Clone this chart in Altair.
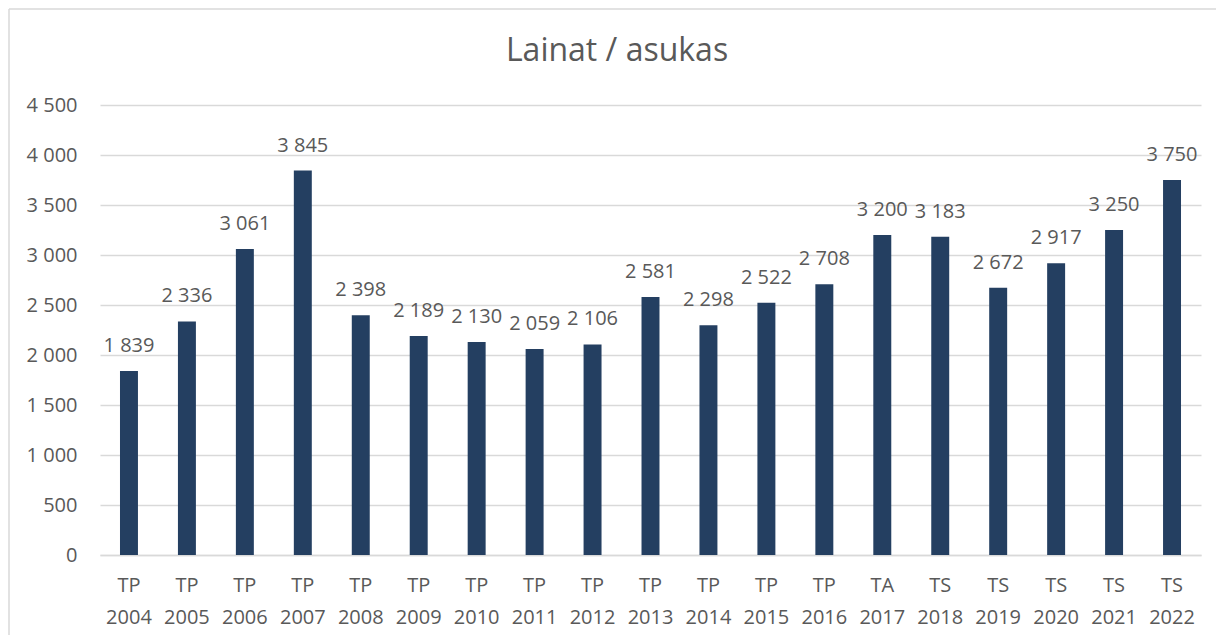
import altair as alt
import pandas as pd

title_text = "Lainat / asukas"
prefixes = ["TP"] * 13 + ["TA"] + ["TS"] * 5
years = list(range(2004, 2023))
values = [1839, 2336, 3061, 3845, 2398, 2189, 2130, 2059, 2106, 2581,
          2298, 2522, 2708, 3200, 3183, 2672, 2917, 3250, 3750]

cats = [f"{p} {y}" for p, y in zip(prefixes, years)]
labels = [f"{v:,}".replace(",", " ") for v in values]
df = pd.DataFrame({"cat": cats, "value": values, "label": labels})

FONT = "Open Sans"
TXT = "#595959"
GRID = "#D9D9D9"
BAR = "#243F61"

x_enc = alt.X(
    "cat:N", sort=cats, title=None,
    scale=alt.Scale(paddingInner=0.69, paddingOuter=0.345),
    axis=alt.Axis(labelAngle=0, labelExpr="split(datum.label, ' ')",
                  labelLineHeight=32, labelFontSize=20, labelColor=TXT,
                  labelFont=FONT, labelPadding=20, ticks=False, tickSize=0,
                  domainColor=GRID, domainWidth=1.5, grid=False,
                  labelBaseline="top"),
)
y_enc = alt.Y(
    "value:Q", title=None,
    scale=alt.Scale(domain=[0, 4500], nice=False),
    axis=alt.Axis(values=list(range(0, 4501, 500)),
                  labelExpr="replace(format(datum.value, ','), ',', ' ')",
                  labelFontSize=20, labelColor=TXT, labelFont=FONT,
                  labelPadding=23, ticks=False, tickSize=0, domain=False,
                  gridColor=GRID, gridWidth=1.5),
)

base = alt.Chart(df)
bars = base.mark_bar(color=BAR).encode(x=x_enc, y=y_enc)
text = base.mark_text(font=FONT, fontSize=20, color=TXT, baseline="alphabetic",
                      dy=-19).encode(x=alt.X("cat:N", sort=cats), y="value:Q",
                                      text="label:N")

single = alt.Chart(pd.DataFrame({"t": [title_text]}))
top_edge = single.mark_rule(color=GRID, strokeWidth=1.5).encode(
    x=alt.value(-91), x2=alt.value(1116), y=alt.value(-96))
left_edge = single.mark_rule(color=GRID, strokeWidth=1.5).encode(
    x=alt.value(-91), y=alt.value(-96), y2=alt.value(530))
title = single.mark_text(
    font=FONT, fontSize=32, color=TXT, align="center", baseline="alphabetic"
).encode(x=alt.value(517), y=alt.value(-44), text="t:N")

chart = alt.layer(top_edge, left_edge, bars, text, title).properties(
    width=1101, height=450,
    autosize=alt.AutoSizeParams(type="none"),
    padding={"left": 92, "top": 97, "right": 15, "bottom": 80},
).configure_view(stroke=None)

chart.save("out.html", embed_options={"renderer": "svg", "actions": False})
